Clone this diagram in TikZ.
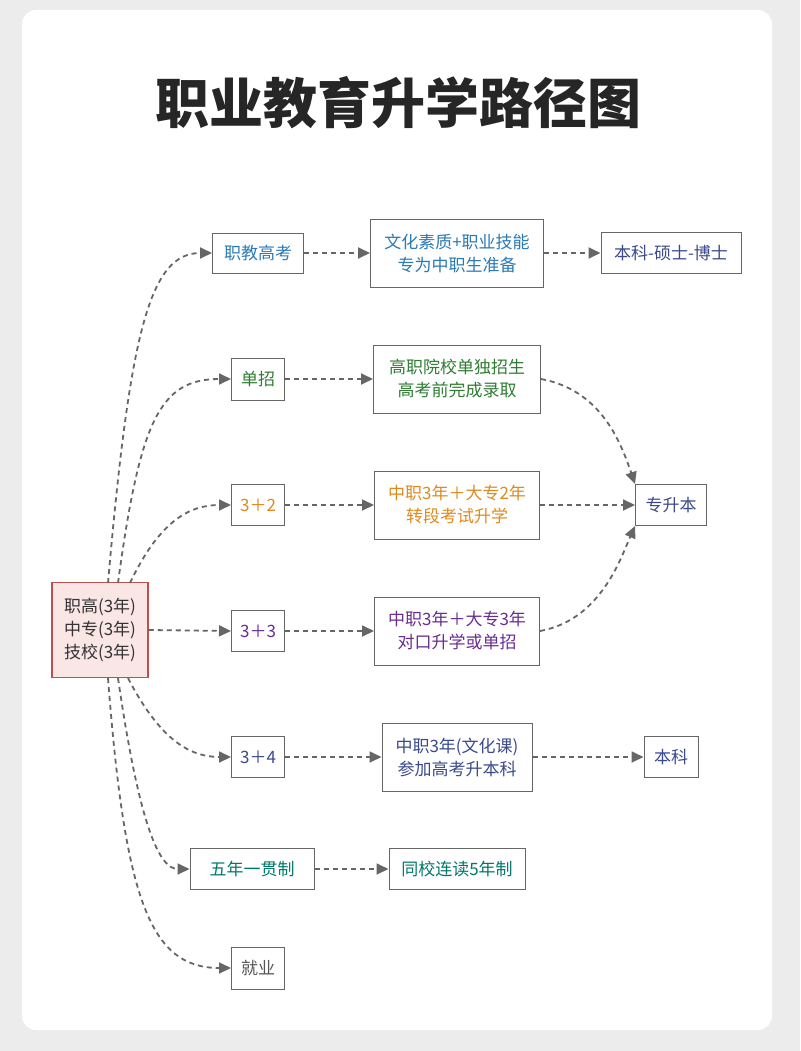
\documentclass[tikz,border=0pt]{standalone}
\usepackage{fontspec}
\setmainfont{Noto Sans CJK SC}
\usetikzlibrary{arrows.meta}
\definecolor{cblue}{HTML}{2A7AB8}
\definecolor{cind}{HTML}{3B4A8C}
\definecolor{cgreen}{HTML}{2E7D32}
\definecolor{corange}{HTML}{E08A1E}
\definecolor{cpurple}{HTML}{6A2C91}
\definecolor{cteal}{HTML}{00796B}
\definecolor{cgray}{HTML}{555555}
\definecolor{cline}{HTML}{666666}
\definecolor{sred}{HTML}{C0504D}
\definecolor{spink}{HTML}{FBE6E6}
\begin{document}
\begin{tikzpicture}[x=1pt,y=-1pt,
 box/.style={draw=cline,line width=1pt,fill=white,align=center,font=\fontsize{17}{23}\selectfont,inner sep=0pt},
 arr/.style={draw=cline,line width=1.8pt,dash pattern=on 5pt off 4pt,-{Triangle[length=12pt,width=11pt]}}]
\fill[gray!15] (0,0) rectangle (800,1051);
\fill[white,rounded corners=14pt] (22,10) rectangle (772,1030);
\useasboundingbox (0,0) rectangle (800,1051);
\node[font=\fontsize{54}{60}\selectfont\bfseries,text=black!85] (title) at (398,103) {职业教育升学路径图};
\node[box,draw=sred,fill=spink,line width=1.5pt,minimum width=96pt,minimum height=95pt,text=black!80] (src) at (100,630) {职高(3年)\\中专(3年)\\技校(3年)};
\node[box,minimum width=91pt,minimum height=40pt,text=cblue] (a1) at (258,253) {职教高考};
\node[box,minimum width=173pt,minimum height=68pt,text=cblue] (a2) at (457,253) {文化素质+职业技能\\专为中职生准备};
\node[box,minimum width=140pt,minimum height=41pt,text=cind] (a3) at (671,253) {本科-硕士-博士};
\node[box,minimum width=53pt,minimum height=42pt,text=cgreen] (b1) at (258,379) {单招};
\node[box,minimum width=167pt,minimum height=68pt,text=cgreen] (b2) at (457,379) {高职院校单独招生\\高考前完成录取};
\node[box,minimum width=71pt,minimum height=41pt,text=cind] (zsb) at (671,505) {专升本};
\node[box,minimum width=53pt,minimum height=41pt,text=corange] (c1) at (258,505) {3＋2};
\node[box,minimum width=165pt,minimum height=68pt,text=corange] (c2) at (457,505) {中职3年＋大专2年\\转段考试升学};
\node[box,minimum width=53pt,minimum height=41pt,text=cpurple] (d1) at (258,631) {3＋3};
\node[box,minimum width=165pt,minimum height=68pt,text=cpurple] (d2) at (457,631) {中职3年＋大专3年\\对口升学或单招};
\node[box,minimum width=53pt,minimum height=41pt,text=cind] (e1) at (258,757) {3＋4};
\node[box,minimum width=150pt,minimum height=68pt,text=cind] (e2) at (457,757) {中职3年(文化课)\\参加高考升本科};
\node[box,minimum width=54pt,minimum height=41pt,text=cind] (e3) at (671,757) {本科};
\node[box,minimum width=124pt,minimum height=41pt,text=cteal] (f1) at (252,869) {五年一贯制};
\node[box,minimum width=136pt,minimum height=41pt,text=cteal] (f2) at (457,869) {同校连读5年制};
\node[box,minimum width=53pt,minimum height=42pt,text=cgray] (g1) at (258,968) {就业};
\coordinate (s1) at (108,583);
\coordinate (s2) at (118,583);
\coordinate (s3) at (130,583);
\coordinate (t1) at (108,678);
\coordinate (t2) at (118,678);
\coordinate (t3) at (128,678);
\draw[arr] (s1) .. controls (130,330) and (150,253) .. (a1.west);
\draw[arr] (s2) .. controls (140,420) and (160,379) .. (b1.west);
\draw[arr] (s3) .. controls (160,520) and (190,505) .. (c1.west);
\draw[arr] (src.east) -- (d1.west);
\draw[arr] (t3) .. controls (160,740) and (190,757) .. (e1.west);
\draw[arr] (t2) .. controls (140,830) and (160,869) .. (f1.west);
\draw[arr] (t1) .. controls (125,900) and (150,968) .. (g1.west);
\draw[arr] (a1) -- (a2);
\draw[arr] (a2) -- (a3);
\draw[arr] (b1) -- (b2);
\draw[arr] (c1) -- (c2);
\draw[arr] (c2) -- (zsb);
\draw[arr] (d1) -- (d2);
\draw[arr] (e1) -- (e2);
\draw[arr] (e2) -- (e3);
\draw[arr] (f1) -- (f2);
\draw[arr] (b2.east) .. controls (600,390) and (620,440) .. (zsb.north west);
\draw[arr] (d2.east) .. controls (600,620) and (620,560) .. (zsb.south west);
\end{tikzpicture}
\end{document}
